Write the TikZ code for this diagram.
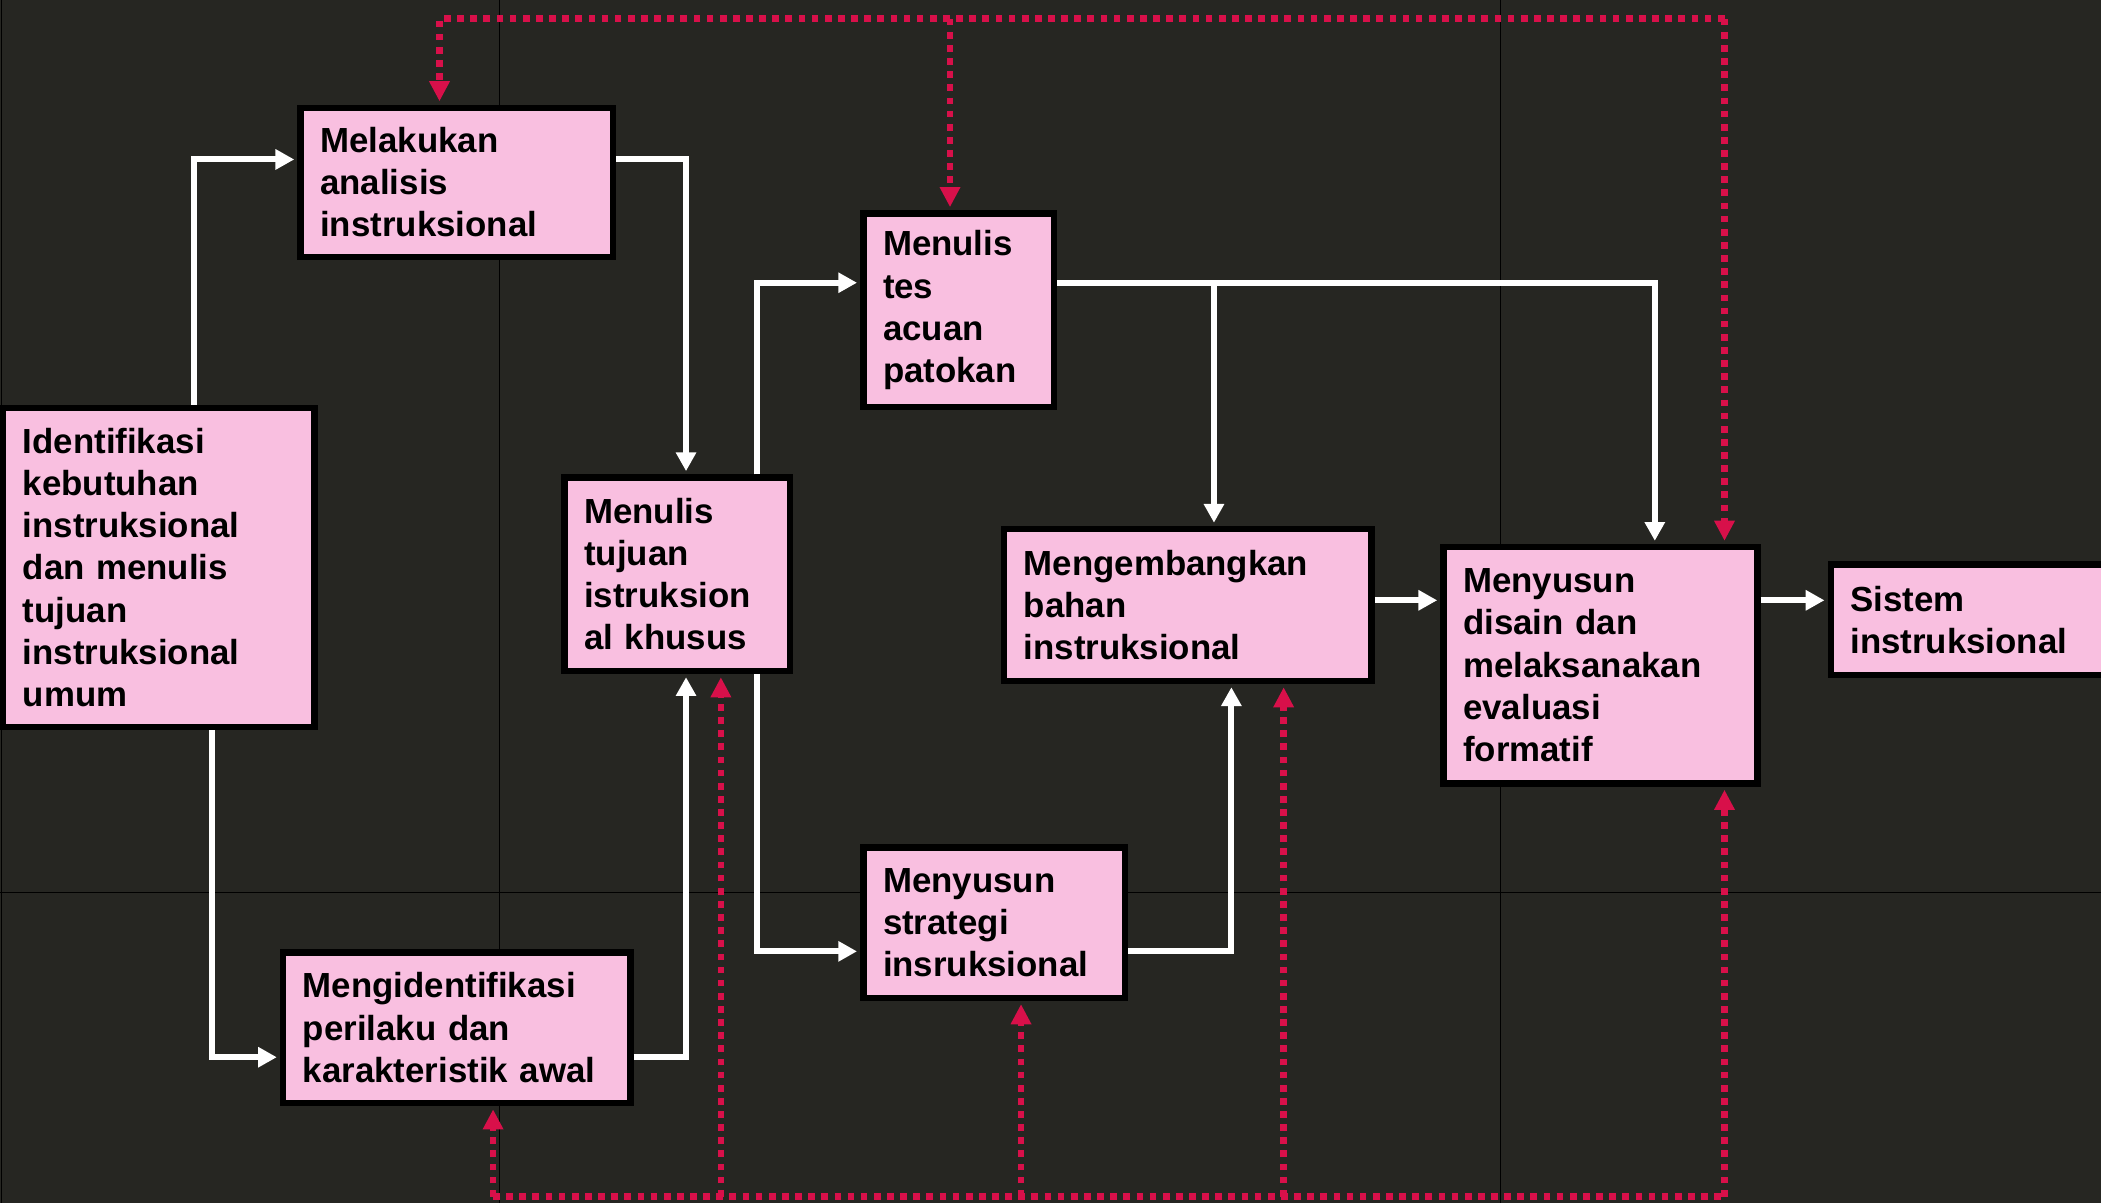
\documentclass[tikz,border=0pt]{standalone}
\usepackage{fontspec}
\setmainfont{Liberation Sans}
\usepackage{tikz}
\usetikzlibrary{arrows.meta}
\usetikzlibrary{positioning}

\definecolor{latargelap}{HTML}{262622}
\definecolor{merahmuda}{HTML}{F9BFE0}
\definecolor{merahtua}{HTML}{D8104A}

\begin{document}
\begin{tikzpicture}[x=1pt,y=-1pt]
% parameter gambar
\tikzstyle kotakdiag=[draw=black,line width=4.8pt,fill=merahmuda,inner xsep=0pt,inner ysep=0pt,align=left,font=\bfseries\fontsize{26}{31.5}\selectfont]
\tikzstyle panahputih=[draw=white,line width=4.5pt,-{Triangle[length=14pt,width=14.5pt]},shorten >=2.4pt]
\tikzstyle garisumpan=[draw=merahtua,line width=5pt,dash pattern=on 5pt off 4.8pt]
\tikzstyle panahumpan=[garisumpan,-{Triangle[length=15pt,width=14.5pt]},shorten >=2.4pt]
\tikzstyle garisgrid=[color=black,line width=0.8pt]

% latar
\useasboundingbox (0,0) rectangle (1568,898);
\fill[latargelap] (0,0) rectangle (1568,898);
\clip (0,0) rectangle (1568,898);
\draw[garisgrid] (1,0) -- (1,898);
\draw[garisgrid] (373,0) -- (373,898);
\draw[garisgrid] (1120,0) -- (1120,898);
\draw[garisgrid] (0,666) -- (1568,666);

% kotak-kotak
\node[kotakdiag,minimum width=232.2pt,minimum height=238.2pt,text width=203pt] (ident) at (118.5,423.5)
  {Identifikasi\\kebutuhan\\instruksional\\dan menulis\\tujuan\\instruksional\\umum};
\node[kotakdiag,minimum width=233.2pt,minimum height=111.2pt,text width=204pt] (analisis) at (341,136)
  {Melakukan\\analisis\\instruksional};
\node[kotakdiag,minimum width=259.2pt,minimum height=112.2pt,text width=230pt] (perilaku) at (341,767)
  {Mengidentifikasi\\perilaku dan\\karakteristik awal};
\node[kotakdiag,minimum width=168.2pt,minimum height=144.2pt,text width=139pt] (tujuan) at (505.5,428.5)
  {Menulis\\tujuan\\istruksion\\al khusus};
\node[kotakdiag,minimum width=142.2pt,minimum height=144.2pt,text width=113pt] (tes) at (715.5,231.5)
  {Menulis\\tes\\acuan\\patokan};
\node[kotakdiag,minimum width=195.2pt,minimum height=112.2pt,text width=166pt] (strategi) at (742,688.5)
  {Menyusun\\strategi\\insruksional};
\node[kotakdiag,minimum width=274.2pt,minimum height=113.2pt,text width=245pt] (bahan) at (886.5,451.5)
  {Mengembangkan\\bahan\\instruksional};
\node[kotakdiag,minimum width=234.2pt,minimum height=176.2pt,text width=205pt] (evaluasi) at (1194.5,496.5)
  {Menyusun\\disain dan\\melaksanakan\\evaluasi\\formatif};
\node[kotakdiag,minimum width=235.2pt,minimum height=82.2pt,text width=206pt] (sistem) at (1484,462.5)
  {Sistem\\instruksional};

% panah putih
\draw[panahputih] (145,0 |- ident.north) |- (analisis.west |- 0,119);
\draw[panahputih] (analisis.east |- 0,119) -| (512,0 |- tujuan.north);
\draw[panahputih] (158,0 |- ident.south) |- (perilaku.west |- 0,789);
\draw[panahputih] (perilaku.east |- 0,789) -| (512,0 |- tujuan.south);
\draw[panahputih] (565,0 |- tujuan.north) |- (tes.west |- 0,211);
\draw[panahputih] (565,0 |- tujuan.south) |- (strategi.west |- 0,710);
\draw[panahputih] (tes.east |- 0,211) -| (1235,0 |- evaluasi.north);
\coordinate (cabang) at (906,211);
\draw[panahputih] (cabang) -- (cabang |- bahan.north);
\draw[panahputih] (strategi.east |- 0,710) -| (919,0 |- bahan.south);
\draw[panahputih] (bahan.east |- 0,448) -- (evaluasi.west |- 0,448);
\draw[panahputih] (evaluasi.east |- 0,448) -- (sistem.west |- 0,448);

% umpan balik
\coordinate (umpanTL) at (328,14);
\coordinate (umpanTM) at (709,14);
\coordinate (umpanTR) at (1287,14);
\coordinate (umpanBL) at (368,893);
\coordinate (umpanBR) at (1287,893);
\draw[panahumpan] (umpanTR) -- (umpanTL) -- (umpanTL |- analisis.north);
\draw[panahumpan] (umpanTM) -- (umpanTM |- tes.north);
\draw[panahumpan] (umpanTR) -- (umpanTR |- evaluasi.north);
\draw[garisumpan] (umpanBL) -- (umpanBR);
\foreach \xx/\kot in {368/perilaku,538/tujuan,762/strategi,958/bahan,1287/evaluasi}
    \draw[panahumpan] (\xx,893) -- (\xx,0 |- \kot.south);
\end{tikzpicture}
\end{document}
